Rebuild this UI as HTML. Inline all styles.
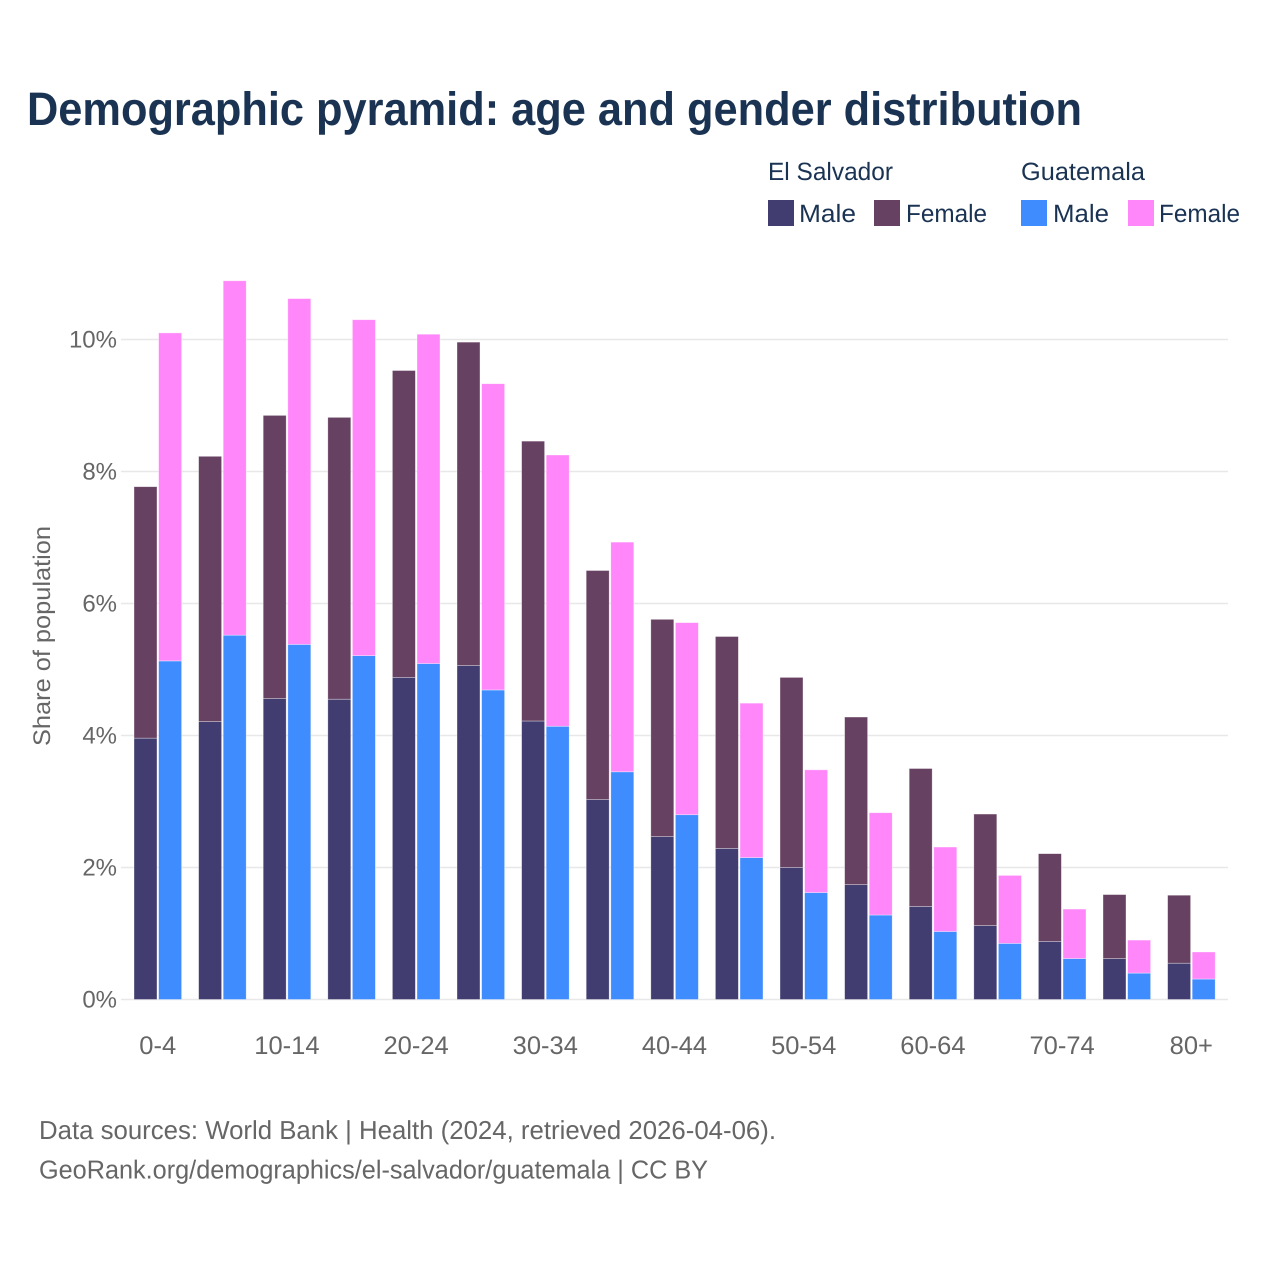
<!DOCTYPE html>
<html lang="en">
<head>
<meta charset="utf-8">
<title>Demographic pyramid: age and gender distribution</title>
<style>
html,body{margin:0;padding:0;background:#fff;}
svg{display:block;font-family:"Liberation Sans",sans-serif;text-rendering:geometricPrecision;}
</style>
</head>
<body>
<svg id="chart" xmlns="http://www.w3.org/2000/svg" width="1280" height="1280" viewBox="0 0 1280 1280">
  <rect x="0" y="0" width="1280" height="1280" fill="#ffffff"/>
  <text x="27" y="125" font-size="47" font-weight="700" fill="#1a3353" textLength="1055" lengthAdjust="spacingAndGlyphs">Demographic pyramid: age and gender distribution</text>

  <g font-size="25" fill="#1a3353">
    <text x="768" y="180" textLength="125" lengthAdjust="spacingAndGlyphs">El Salvador</text>
    <text x="1021" y="180" textLength="124" lengthAdjust="spacingAndGlyphs">Guatemala</text>
    <rect x="768" y="200" width="26" height="26" fill="#413d70"/>
    <text x="799" y="222" textLength="57" lengthAdjust="spacingAndGlyphs">Male</text>
    <rect x="874" y="200" width="26" height="26" fill="#674161"/>
    <text x="906" y="222" textLength="81" lengthAdjust="spacingAndGlyphs">Female</text>
    <rect x="1021" y="200" width="26" height="26" fill="#3f8cff"/>
    <text x="1053" y="222" textLength="56" lengthAdjust="spacingAndGlyphs">Male</text>
    <rect x="1128" y="200" width="26" height="26" fill="#ff87f9"/>
    <text x="1159" y="222" textLength="81" lengthAdjust="spacingAndGlyphs">Female</text>
  </g>

  <g id="grid"></g>
  <g id="bars"></g>
  <g id="yticks"></g>
  <g id="xticks"></g>

  <text transform="translate(50,636) rotate(-90)" text-anchor="middle" font-size="24" fill="#666666" textLength="220" lengthAdjust="spacingAndGlyphs">Share of population</text>

  <text x="39" y="1139" font-size="26" fill="#666666" textLength="737" lengthAdjust="spacingAndGlyphs">Data sources: World Bank | Health (2024, retrieved 2026-04-06).</text>
  <text x="39" y="1178.5" font-size="26" fill="#666666" textLength="669" lengthAdjust="spacingAndGlyphs">GeoRank.org/demographics/el-salvador/guatemala | CC BY</text>
</svg>
<script>
const categories = ["0-4","5-9","10-14","15-19","20-24","25-29","30-34","35-39","40-44","45-49","50-54","55-59","60-64","65-69","70-74","75-79","80+"];
const elSalvadorMale = [3.96,4.21,4.56,4.55,4.88,5.06,4.22,3.03,2.47,2.29,2.00,1.74,1.41,1.12,0.88,0.62,0.55];
const elSalvadorFemale = [3.81,4.02,4.29,4.27,4.65,4.90,4.24,3.47,3.29,3.21,2.88,2.54,2.09,1.69,1.33,0.97,1.03];
const guatemalaMale = [5.13,5.52,5.38,5.21,5.09,4.69,4.14,3.45,2.80,2.15,1.62,1.28,1.03,0.85,0.62,0.40,0.31];
const guatemalaFemale = [4.97,5.37,5.24,5.09,4.99,4.64,4.11,3.48,2.91,2.34,1.86,1.55,1.28,1.03,0.75,0.50,0.41];
const yTickValues = [0,2,4,6,8,10];

const NS = "http://www.w3.org/2000/svg";
function xScale(i){ return 157.7 + i * 64.6; }
function yScale(v){ return 999.5 - v * 66; }

const grid = document.getElementById("grid");
const bars = document.getElementById("bars");
const yticks = document.getElementById("yticks");
const xticks = document.getElementById("xticks");

yTickValues.forEach(function(v){
  const line = document.createElementNS(NS, "line");
  
  
  line.setAttribute("x1", 121);
  line.setAttribute("x2", 1228);
  line.setAttribute("y1", yScale(v));
  line.setAttribute("y2", yScale(v));
  line.setAttribute("stroke", "#e8e8e8");
  line.setAttribute("stroke-width", 1.4);
  grid.appendChild(line);

  const t = document.createElementNS(NS, "text");
  
  
  t.setAttribute("x", 117);
  t.setAttribute("y", yScale(v) + 8);
  t.setAttribute("text-anchor", "end");
  t.setAttribute("font-size", 24);
  t.setAttribute("fill", "#666666");
  t.textContent = v + "%";
  yticks.appendChild(t);
});

function drawBar(cx, v0, v1, color){
  const r = document.createElementNS(NS, "rect");
  
  
  r.setAttribute("x", cx - 11.5);
  r.setAttribute("width", 23);
  r.setAttribute("y", yScale(v1));
  r.setAttribute("height", yScale(v0) - yScale(v1));
  r.setAttribute("fill", color);
  r.setAttribute("stroke", "#ffffff");
  r.setAttribute("stroke-width", 0.7);
  r.setAttribute("stroke-opacity", 0.5);
  bars.appendChild(r);
}

categories.forEach(function(cat, i){
  const c = xScale(i);
  drawBar(c - 12.2, 0, elSalvadorMale[i], "#413d70");
  drawBar(c - 12.2, elSalvadorMale[i], elSalvadorMale[i] + elSalvadorFemale[i], "#674161");
  drawBar(c + 12.4, 0, guatemalaMale[i], "#3f8cff");
  drawBar(c + 12.4, guatemalaMale[i], guatemalaMale[i] + guatemalaFemale[i], "#ff87f9");
  if (i % 2 === 0) {
    const t = document.createElementNS(NS, "text");
    
    
    t.setAttribute("x", c);
    t.setAttribute("y", 1054);
    t.setAttribute("text-anchor", "middle");
    t.setAttribute("font-size", 25.5);
    t.setAttribute("fill", "#666666");
    t.textContent = cat;
    xticks.appendChild(t);
  }
});
</script>
</body>
</html>
